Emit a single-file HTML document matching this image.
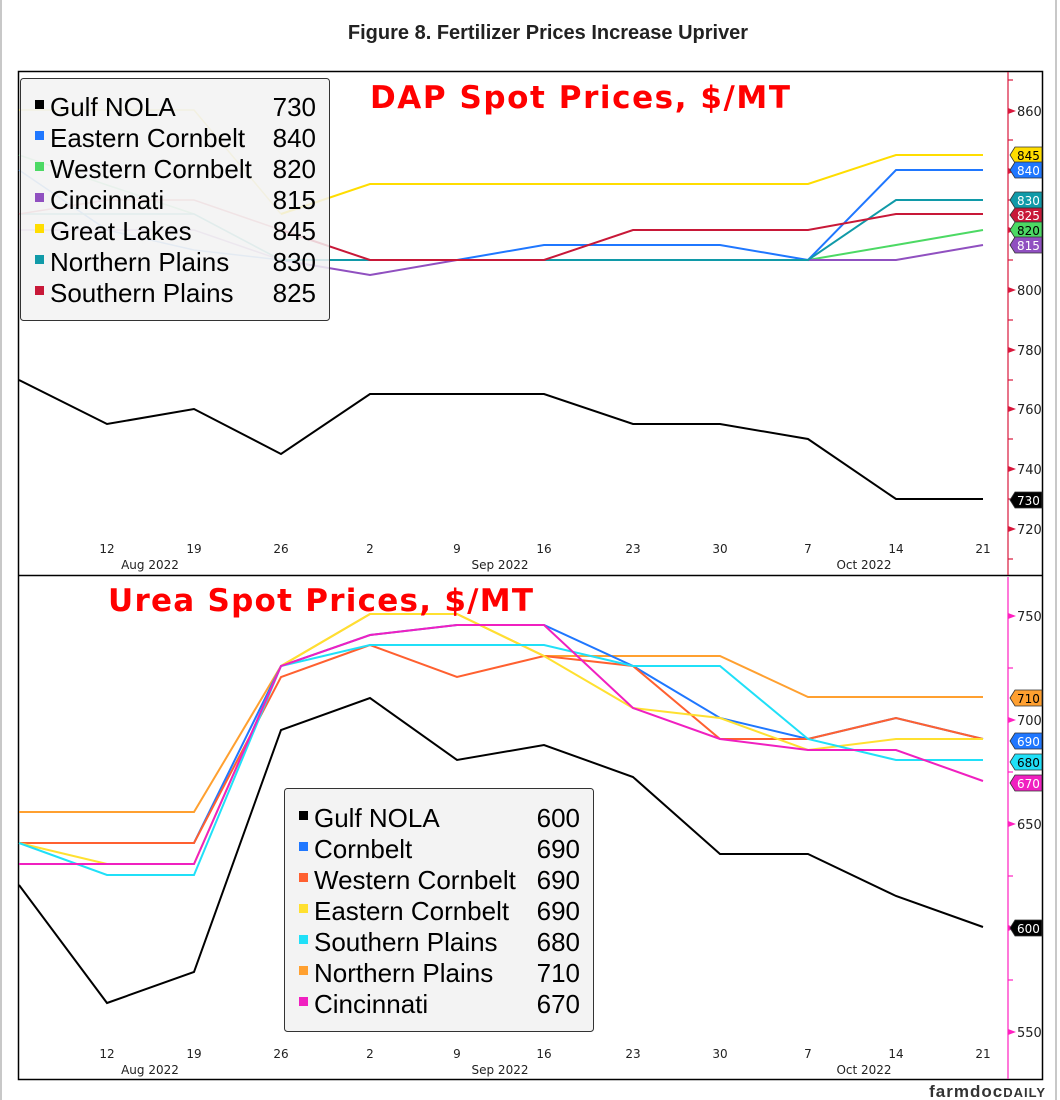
<!DOCTYPE html>
<html><head><meta charset="utf-8"><style>
body{margin:0;background:#fff;}
svg{display:block;font-family:"DejaVu Sans","Liberation Sans",sans-serif;}
</style></head><body>
<svg width="1060" height="1100" viewBox="0 0 1060 1100">
<rect x="0" y="0" width="1060" height="1100" fill="#fff"/>
<line x1="1" y1="0" x2="1" y2="1100" stroke="#c8c8c8" stroke-width="2"/>
<line x1="1056" y1="0" x2="1056" y2="1100" stroke="#c8c8c8" stroke-width="2"/>
<text x="548" y="39" text-anchor="middle" font-family="Liberation Sans" font-weight="bold" font-size="20" fill="#222">Figure 8. Fertilizer Prices Increase Upriver</text>
<rect x="18.5" y="71.5" width="1024" height="1008" fill="none" stroke="#000" stroke-width="1.5"/>
<line x1="18" y1="575.5" x2="1043" y2="575.5" stroke="#000" stroke-width="1.5"/>

<!-- TOP right axis -->
<line x1="1008" y1="72" x2="1008" y2="575" stroke="#d8183c" stroke-width="1.2"/>
<g stroke="#d8183c" stroke-width="1.2">
<line x1="1008" y1="80" x2="1013" y2="80"/><line x1="1008" y1="140" x2="1013" y2="140"/><line x1="1008" y1="200" x2="1013" y2="200"/><line x1="1008" y1="260" x2="1013" y2="260"/><line x1="1008" y1="320" x2="1013" y2="320"/><line x1="1008" y1="380" x2="1013" y2="380"/><line x1="1008" y1="439" x2="1013" y2="439"/><line x1="1008" y1="499" x2="1013" y2="499"/><line x1="1008" y1="559" x2="1013" y2="559"/>
</g>
<g fill="#d8183c">
<polygon points="1008,108 1016,111 1008,114"/><polygon points="1008,168 1016,171 1008,174"/><polygon points="1008,227 1016,230 1008,233"/><polygon points="1008,287 1016,290 1008,293"/><polygon points="1008,347 1016,350 1008,353"/><polygon points="1008,406 1016,409 1008,412"/><polygon points="1008,466 1016,469 1008,472"/><polygon points="1008,526 1016,529 1008,532"/>
</g>
<g font-size="13" fill="#222">
<text x="1017" y="116">860</text><text x="1017" y="235">820</text><text x="1017" y="295">800</text><text x="1017" y="355">780</text><text x="1017" y="414">760</text><text x="1017" y="474">740</text><text x="1017" y="534">720</text>
</g>

<!-- TOP series -->
<g fill="none" stroke-width="2">
<polyline stroke="#000" points="19,380 107,424 194,409 281,454 370,394 457,394 544,394 633,424 720,424 808,439 896,499 983,499"/>
<polyline stroke="#aee8c0" stroke-width="1.5" points="19,155 107,185 194,214 281,260"/>
<polyline stroke="#4cd964" points="281,260 370,260 457,260 544,260 633,260 720,260 808,260 896,245 983,230"/>
<polyline stroke="#90bdf0" stroke-width="1.5" points="19,170 107,230 194,250 281,260"/>
<polyline stroke="#1f77ff" points="281,260 370,260 457,260 544,245 633,245 720,245 808,260 896,170 983,170"/>
<polyline stroke="#c9a8d8" stroke-width="1.5" points="19,230 107,230 194,230 281,260"/>
<polyline stroke="#9050c0" points="281,260 370,275 457,260 544,260 633,260 720,260 808,260 896,260 983,245"/>
<polyline stroke="#80c8c8" stroke-width="1.5" points="19,214 107,214 194,214 281,260"/>
<polyline stroke="#109aa8" points="281,260 370,260 457,260 544,260 633,260 720,260 808,260 896,200 983,200"/>
<polyline stroke="#e09098" stroke-width="1.5" points="19,214 107,200 194,200 281,230"/>
<polyline stroke="#c81838" points="281,230 370,260 457,260 544,260 633,230 720,230 808,230 896,214 983,214"/>
<polyline stroke="#f0e080" stroke-width="1.5" points="19,110 107,110 194,110 281,214"/>
<polyline stroke="#ffdd00" points="281,214 370,184 457,184 544,184 633,184 720,184 808,184 896,155 983,155"/>
</g>
<!-- TOP legend -->
<rect x="20.5" y="78.5" width="309" height="242" rx="3" fill="#f2f2f2" fill-opacity="0.85" stroke="#333"/>
<g font-size="26" fill="#000" font-family="Liberation Sans">
<rect x="35" y="100" width="9" height="9" fill="#000"/><text x="50" y="116">Gulf NOLA</text><text x="316" y="116" text-anchor="end">730</text>
<rect x="35" y="131" width="9" height="9" fill="#1f77ff"/><text x="50" y="147">Eastern Cornbelt</text><text x="316" y="147" text-anchor="end">840</text>
<rect x="35" y="162" width="9" height="9" fill="#4cd964"/><text x="50" y="178">Western Cornbelt</text><text x="316" y="178" text-anchor="end">820</text>
<rect x="35" y="193" width="9" height="9" fill="#9050c0"/><text x="50" y="209">Cincinnati</text><text x="316" y="209" text-anchor="end">815</text>
<rect x="35" y="224" width="9" height="9" fill="#ffdd00"/><text x="50" y="240">Great Lakes</text><text x="316" y="240" text-anchor="end">845</text>
<rect x="35" y="255" width="9" height="9" fill="#109aa8"/><text x="50" y="271">Northern Plains</text><text x="316" y="271" text-anchor="end">830</text>
<rect x="35" y="286" width="9" height="9" fill="#c81838"/><text x="50" y="302">Southern Plains</text><text x="316" y="302" text-anchor="end">825</text>
</g>
<text x="370" y="108" font-family="DejaVu Sans" font-weight="bold" font-size="31" fill="#ff0000" textLength="420" lengthAdjust="spacing">DAP Spot Prices, $/MT</text>
<!-- TOP tags -->
<g font-size="12" stroke="#333" stroke-width="0.8">
<polygon points="1010,155 1015,147 1042,147 1042,163 1015,163" fill="#ffdd00"/><text x="1017" y="160" fill="#000" stroke="none">845</text>
<polygon points="1010,170 1015,162 1042,162 1042,178 1015,178" fill="#1f77ff"/><text x="1017" y="175" fill="#fff" stroke="none">840</text>
<polygon points="1010,200 1015,192 1042,192 1042,208 1015,208" fill="#109aa8"/><text x="1017" y="205" fill="#fff" stroke="none">830</text>
<polygon points="1010,215 1015,208 1042,208 1042,222 1015,222" fill="#c81838"/><text x="1017" y="220" fill="#fff" stroke="none">825</text>
<polygon points="1010,230 1015,222 1042,222 1042,238 1015,238" fill="#4cd964"/><text x="1017" y="235" fill="#000" stroke="none">820</text>
<polygon points="1010,245 1015,237 1042,237 1042,253 1015,253" fill="#9050c0"/><text x="1017" y="250" fill="#fff" stroke="none">815</text>
<polygon points="1010,500 1015,492 1042,492 1042,508 1015,508" fill="#000"/><text x="1017" y="505" fill="#fff" stroke="none">730</text>
</g>
<g font-size="12" fill="#222" text-anchor="middle">
<text x="107" y="553">12</text><text x="194" y="553">19</text><text x="281" y="553">26</text><text x="370" y="553">2</text><text x="457" y="553">9</text><text x="544" y="553">16</text><text x="633" y="553">23</text><text x="720" y="553">30</text><text x="808" y="553">7</text><text x="896" y="553">14</text><text x="983" y="553">21</text>
<text x="150" y="569">Aug 2022</text><text x="500" y="569">Sep 2022</text><text x="864" y="569">Oct 2022</text>
</g>

<!-- BOTTOM axis -->
<line x1="1008" y1="577" x2="1008" y2="1079" stroke="#ff20c0" stroke-width="1.2"/>
<g stroke="#ff20c0" stroke-width="1.2">
<line x1="1008" y1="668" x2="1013" y2="668"/><line x1="1008" y1="772" x2="1013" y2="772"/><line x1="1008" y1="876" x2="1013" y2="876"/><line x1="1008" y1="980" x2="1013" y2="980"/>
</g>
<g fill="#ff20c0">
<polygon points="1008,613 1016,616 1008,619"/><polygon points="1008,717 1016,720 1008,723"/><polygon points="1008,821 1016,824 1008,827"/><polygon points="1008,925 1016,928 1008,931"/><polygon points="1008,1029 1016,1032 1008,1035"/>
</g>
<g font-size="13" fill="#222">
<text x="1017" y="621">750</text><text x="1017" y="725">700</text><text x="1017" y="829">650</text><text x="1017" y="1037">550</text>
</g>
<g fill="none" stroke-width="2">
<polyline stroke="#000" points="19,885 107,1003 194,972 281,730 370,698 457,760 544,745 633,777 720,854 808,854 896,896 983,927"/>
<polyline stroke="#ffa030" points="19,812 107,812 194,812 281,666 370,614 457,614 544,656 633,656 720,656 808,697 896,697 983,697"/>
<polyline stroke="#1f77ff" points="19,843 107,843 194,843 281,666 370,635 457,625 544,625 633,666 720,718 808,739 896,718 983,739"/>
<polyline stroke="#ff6030" points="19,843 107,843 194,843 281,677 370,645 457,677 544,656 633,666 720,739 808,739 896,718 983,739"/>
<polyline stroke="#ffe030" points="19,843 107,864 194,864 281,666 370,614 457,614 544,656 633,708 720,718 808,750 896,739 983,739"/>
<polyline stroke="#20e0f8" points="19,843 107,875 194,875 281,666 370,645 457,645 544,645 633,666 720,666 808,739 896,760 983,760"/>
<polyline stroke="#f020c0" points="19,864 107,864 194,864 281,666 370,635 457,625 544,625 633,708 720,739 808,750 896,750 983,781"/>
</g>
<rect x="284.5" y="788.5" width="309" height="243" rx="3" fill="#f2f2f2" fill-opacity="0.9" stroke="#333"/>
<g font-size="26" fill="#000" font-family="Liberation Sans">
<rect x="299" y="811" width="9" height="9" fill="#000"/><text x="314" y="827">Gulf NOLA</text><text x="580" y="827" text-anchor="end">600</text>
<rect x="299" y="842" width="9" height="9" fill="#1f77ff"/><text x="314" y="858">Cornbelt</text><text x="580" y="858" text-anchor="end">690</text>
<rect x="299" y="873" width="9" height="9" fill="#ff6030"/><text x="314" y="889">Western Cornbelt</text><text x="580" y="889" text-anchor="end">690</text>
<rect x="299" y="904" width="9" height="9" fill="#ffe030"/><text x="314" y="920">Eastern Cornbelt</text><text x="580" y="920" text-anchor="end">690</text>
<rect x="299" y="935" width="9" height="9" fill="#20e0f8"/><text x="314" y="951">Southern Plains</text><text x="580" y="951" text-anchor="end">680</text>
<rect x="299" y="966" width="9" height="9" fill="#ffa030"/><text x="314" y="982">Northern Plains</text><text x="580" y="982" text-anchor="end">710</text>
<rect x="299" y="997" width="9" height="9" fill="#f020c0"/><text x="314" y="1013">Cincinnati</text><text x="580" y="1013" text-anchor="end">670</text>
</g>
<text x="108" y="611" font-family="DejaVu Sans" font-weight="bold" font-size="31" fill="#ff0000" textLength="425" lengthAdjust="spacing">Urea Spot Prices, $/MT</text>
<g font-size="12" stroke="#333" stroke-width="0.8">
<polygon points="1010,698 1015,690 1042,690 1042,706 1015,706" fill="#ffa030"/><text x="1017" y="703" fill="#000" stroke="none">710</text>
<polygon points="1010,741 1015,733 1042,733 1042,749 1015,749" fill="#1f77ff"/><text x="1017" y="746" fill="#fff" stroke="none">690</text>
<polygon points="1010,762 1015,754 1042,754 1042,770 1015,770" fill="#20e0f8"/><text x="1017" y="767" fill="#000" stroke="none">680</text>
<polygon points="1010,783 1015,775 1042,775 1042,791 1015,791" fill="#f020c0"/><text x="1017" y="788" fill="#fff" stroke="none">670</text>
<polygon points="1010,928 1015,920 1042,920 1042,936 1015,936" fill="#000"/><text x="1017" y="933" fill="#fff" stroke="none">600</text>
</g>
<g font-size="12" fill="#222" text-anchor="middle">
<text x="107" y="1058">12</text><text x="194" y="1058">19</text><text x="281" y="1058">26</text><text x="370" y="1058">2</text><text x="457" y="1058">9</text><text x="544" y="1058">16</text><text x="633" y="1058">23</text><text x="720" y="1058">30</text><text x="808" y="1058">7</text><text x="896" y="1058">14</text><text x="983" y="1058">21</text>
<text x="150" y="1074">Aug 2022</text><text x="500" y="1074">Sep 2022</text><text x="864" y="1074">Oct 2022</text>
</g>
<text x="1046" y="1097" text-anchor="end" font-family="Liberation Sans" font-weight="bold" font-size="17" fill="#333" letter-spacing="1">farmdoc<tspan font-size="13">DAILY</tspan></text>
</svg>
</body></html>
